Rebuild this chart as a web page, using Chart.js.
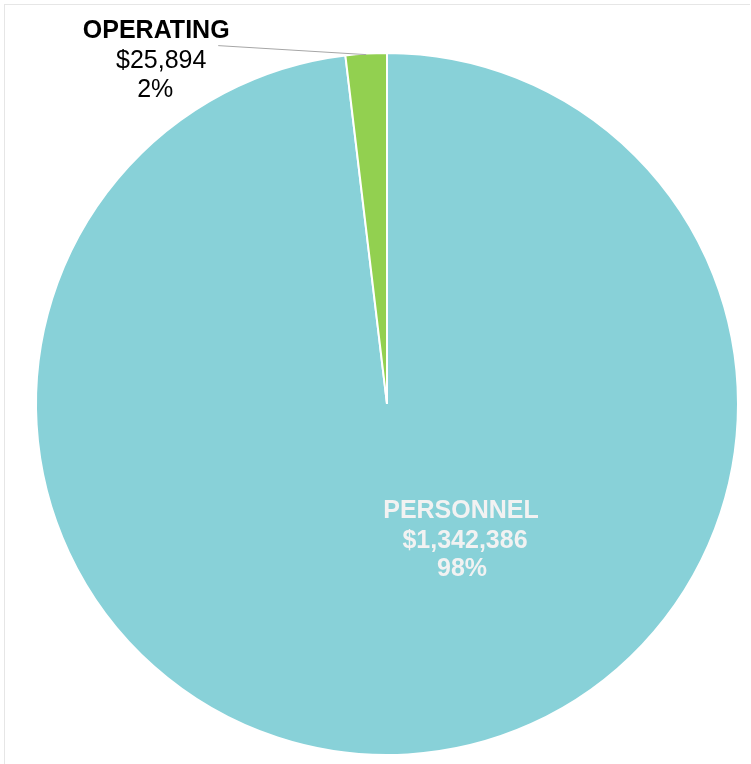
<!DOCTYPE html>
<html>
<head>
<meta charset="utf-8">
<script src="https://cdn.jsdelivr.net/npm/chart.js@4/dist/chart.umd.min.js"></script>
<style>
  html, body { margin: 0; padding: 0; background: #fff; }
  #wrap { position: relative; width: 751px; height: 764px; }
  #frame { position: absolute; left: 4px; top: 4px; right: 1px; bottom: 0; border-top: 1px solid #e6e6e6; border-left: 1px solid #e6e6e6; }
  canvas { position: absolute; left: 0; top: 0; }
</style>
</head>
<body>
<div id="wrap">
  <div id="frame"></div>
  <canvas id="budgetPie" width="751" height="764"></canvas>
</div>
<script>
// Budget split
const categories = ['PERSONNEL', 'OPERATING'];
const amounts = [1342386, 25894];
const sliceColors = ['#88D1D8', '#92D050'];

const total = amounts.reduce((a, b) => a + b, 0);

function money(v) {
  return '$' + v.toLocaleString('en-US');
}
function pct(v) {
  return Math.round(v / total * 100) + '%';
}

// draws the labels: big slice inside, small slice outside with a leader line
const sliceLabels = {
  id: 'sliceLabels',
  afterDatasetsDraw(chart) {
    const ctx = chart.ctx;
    const arcs = chart.getDatasetMeta(0).data;
    ctx.save();
    ctx.textAlign = 'center';
    ctx.textBaseline = 'middle';

    // PERSONNEL - inside
    const a0 = arcs[0];
    const cx = a0.x, cy = a0.y;
    ctx.fillStyle = '#F2F2F2';
    ctx.font = 'bold 25px "Liberation Sans", Arial, sans-serif';
    ctx.fillText(categories[0], cx + 74, cy + 107);
    ctx.fillText(money(amounts[0]), cx + 78, cy + 137);
    ctx.fillText(pct(amounts[0]), cx + 75, cy + 165);

    // OPERATING - outside, leader line from the arc edge
    const a1 = arcs[1];
    const mid = (a1.startAngle + a1.endAngle) / 2;
    const px = a1.x + Math.cos(mid) * (a1.outerRadius - 1);
    const py = a1.y + Math.sin(mid) * (a1.outerRadius - 1);
    ctx.strokeStyle = '#A6A6A6';
    ctx.lineWidth = 1;
    ctx.beginPath();
    ctx.moveTo(px, py);
    ctx.lineTo(px - 148, py - 9);
    ctx.stroke();

    ctx.fillStyle = '#000';
    ctx.font = 'bold 25px "Liberation Sans", Arial, sans-serif';
    ctx.fillText(categories[1], px - 210, py - 24);
    ctx.font = '25px "Liberation Sans", Arial, sans-serif';
    ctx.fillText(money(amounts[1]), px - 205, py + 6);
    ctx.fillText(pct(amounts[1]), px - 211, py + 35);
    ctx.restore();
  }
};

new Chart(document.getElementById('budgetPie'), {
  type: 'pie',
  data: {
    labels: categories,
    datasets: [{
      data: amounts,
      backgroundColor: sliceColors,
      borderColor: '#FFFFFF',
      borderWidth: 2
    }]
  },
  options: {
    responsive: false,
    animation: false,
    layout: {
      padding: { left: 35, right: 12, top: 52, bottom: 8 }
    },
    plugins: {
      legend: { display: false },
      tooltip: { enabled: false }
    }
  },
  plugins: [sliceLabels]
});
</script>
</body>
</html>
